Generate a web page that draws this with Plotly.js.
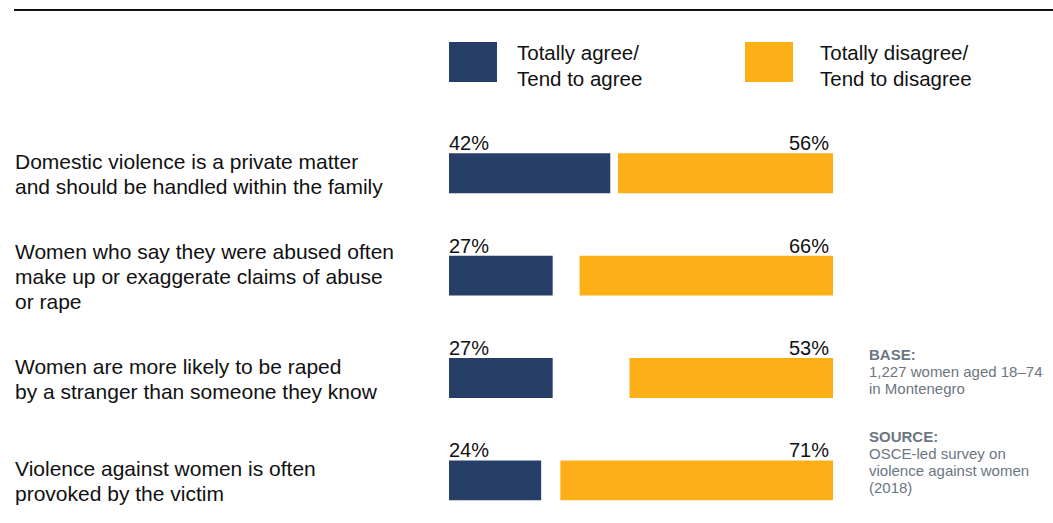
<!DOCTYPE html>
<html>
<head>
<meta charset="utf-8">
<script src="https://cdn.plot.ly/plotly-3.0.1.min.js"></script>
<style>
html,body{margin:0;padding:0;background:#fff;}
#chart{width:1053px;height:523px;}
</style>
</head>
<body>
<div id="chart"></div>
<script>
const statements = [
  "Domestic violence is a private matter<br>and should be handled within the family",
  "Women who say they were abused often<br>make up or exaggerate claims of abuse<br>or rape",
  "Women are more likely to be raped<br>by a stranger than someone they know",
  "Violence against women is often<br>provoked by the victim"
];
const agree = [42, 27, 27, 24];
const disagree = [56, 66, 53, 71];
const seriesNames = ["Totally agree/<br>Tend to agree", "Totally disagree/<br>Tend to disagree"];
const noteBase = ["<b>BASE:</b>", "1,227 women aged 18–74", "in Montenegro"];
const noteSource = ["<b>SOURCE:</b>", "OSCE-led survey on", "violence against women", "(2018)"];

const BLUE = "#273f66";
const ORANGE = "#fcaf17";
const FONT = "Arial, 'Liberation Sans', sans-serif";
const rows = statements.map((_, i) => i);

const traces = [
  {
    type: "bar", orientation: "h", y: rows, x: agree, base: 0,
    width: 0.39, marker: {color: BLUE}, name: "agree", hoverinfo: "skip"
  },
  {
    type: "bar", orientation: "h", y: rows, x: disagree,
    base: disagree.map(v => 100 - v),
    width: 0.39, marker: {color: ORANGE}, name: "disagree", hoverinfo: "skip"
  }
];

const W = 1053, L = 449, R = 220;
const pw = W - L - R;
const px = p => (p - L) / pw;
const H = 523, T = 122, B = 0;
const ph = H - T - B;
const py = p => 1 - (p - T) / ph;

const annotations = [];
rows.forEach(i => {
  annotations.push({
    x: 0, y: i, xref: "x", yref: "y", text: agree[i] + "%",
    xanchor: "left", yanchor: "middle", yshift: 30, showarrow: false,
    borderpad: 0, xshift: -1,
    font: {family: FONT, size: 20, color: "#111"}
  });
  annotations.push({
    x: 100, y: i, xref: "x", yref: "y", text: disagree[i] + "%",
    xanchor: "right", yanchor: "middle", yshift: 30, showarrow: false,
    borderpad: 0, xshift: -3,
    font: {family: FONT, size: 20, color: "#111"}
  });
  const lines = statements[i].split("<br>");
  lines.forEach((ln, k) => {
    annotations.push({
      x: px(14), xref: "paper", y: i, yref: "y", text: ln,
      xanchor: "left", yanchor: "middle", align: "left", showarrow: false,
      yshift: -1 - (k - (lines.length - 1) / 2) * 25, borderpad: 0,
      font: {family: FONT, size: 21, color: "#111"}
    });
  });
});

// legend
const legendItems = [
  {name: seriesNames[0], color: BLUE, sx: 449, tx: 516},
  {name: seriesNames[1], color: ORANGE, sx: 745, tx: 819}
];
const shapes = [
  {type: "line", xref: "paper", yref: "paper", x0: px(14), x1: px(1053), y0: py(10), y1: py(10),
   line: {color: "#111", width: 2}}
];
legendItems.forEach(it => {
  shapes.push({type: "rect", xref: "paper", yref: "paper",
    x0: px(it.sx), x1: px(it.sx + 48), y0: py(42), y1: py(82),
    fillcolor: it.color, line: {width: 0}});
  const lines = it.name.split("<br>");
  lines.forEach((ln, k) => {
    annotations.push({x: px(it.tx), y: py(52 + 27 * k), xref: "paper", yref: "paper",
      text: ln, xanchor: "left", yanchor: "middle", showarrow: false, borderpad: 0,
      font: {family: FONT, size: 20.5, color: "#111"}});
  });
});
noteBase.forEach((t, k) => {
  annotations.push({x: px(868), y: py(354 + 17 * k), xref: "paper", yref: "paper",
    text: t, xanchor: "left", yanchor: "middle", showarrow: false, borderpad: 0,
    font: {family: FONT, size: 15, color: "#6b7682"}});
});
noteSource.forEach((t, k) => {
  annotations.push({x: px(868), y: py(436 + 17 * k), xref: "paper", yref: "paper",
    text: t, xanchor: "left", yanchor: "middle", showarrow: false, borderpad: 0,
    font: {family: FONT, size: 15, color: "#6b7682"}});
});

const layout = {
  width: W, height: H,
  margin: {l: L, r: R, t: T, b: B, pad: 0},
  paper_bgcolor: "#fff", plot_bgcolor: "#fff",
  barmode: "overlay",
  showlegend: false,
  xaxis: {range: [0, 100], visible: false, fixedrange: true},
  yaxis: {range: [3.416, -0.5], visible: false, fixedrange: true},
  annotations: annotations,
  shapes: shapes
};

Plotly.newPlot("chart", traces, layout, {displayModeBar: false, staticPlot: true});
</script>
</body>
</html>
